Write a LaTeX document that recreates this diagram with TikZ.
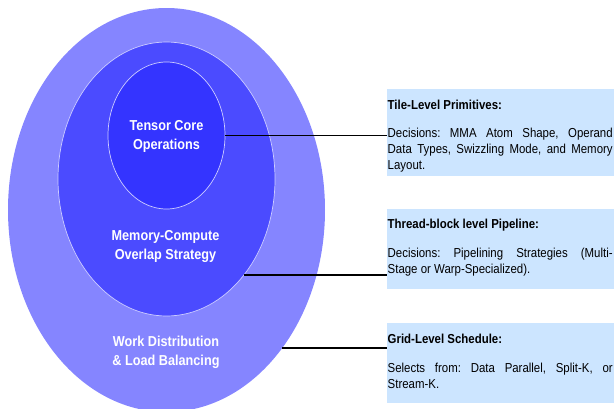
\documentclass[tikz,border=0pt]{standalone}
\usepackage{fontspec}
\setmainfont{Liberation Sans}[FakeStretch=0.88, WordSpace={1,4,0}]
\usetikzlibrary{shapes.geometric}
\definecolor{outerc}{RGB}{133,133,255}
\definecolor{midc}{RGB}{75,75,255}
\definecolor{innerc}{RGB}{52,52,255}
\definecolor{boxc}{RGB}{204,229,255}
\definecolor{rimc}{RGB}{205,205,255}
\frenchspacing
\hyphenpenalty=10000
\begin{document}
\begin{tikzpicture}[x=1pt,y=-1pt,
  ring/.style={ellipse, inner sep=0pt},
  ringtext/.style={text=white, font=\fontsize{14.4}{19}\selectfont\bfseries, align=center, inner sep=0pt},
  infobox/.style={rectangle, fill=boxc, inner sep=0pt, anchor=north west},
  boxtitle/.style={font=\fontsize{13}{16.3}\selectfont\bfseries, anchor=base west, inner sep=0pt},
  boxbody/.style={font=\fontsize{13}{16.3}\selectfont, anchor=base west, inner sep=0pt, text width=225pt, align=justify},
  link/.style={draw=black, line width=1.7pt}
]
\useasboundingbox (0,0) rectangle (614,408);
\clip (0,0) rectangle (614,408);
% nested ellipses
\node[ring, fill=outerc, minimum width=317pt, minimum height=404pt] (outer) at (166.5,210) {};
\node[ring, fill=midc, draw=rimc, line width=0.7pt, minimum width=217pt, minimum height=274pt] (mid) at (166.5,179) {};
\node[ring, fill=innerc, draw=rimc, line width=0.7pt, minimum width=117pt, minimum height=147pt] (inner) at (166.5,135.5) {};
% ellipse labels
\node[ringtext] (tlab) at (166.5,136.5) {Tensor Core\\Operations};
\node[ringtext] (mlab) at (165.5,246.5) {Memory-Compute\\Overlap Strategy};
\node[ringtext] (wlab) at (166,352.5) {Work Distribution\\\&~Load Balancing};
% boxes
\node[infobox, minimum width=227pt, minimum height=87pt] (b1) at (387,89) {};
\node[infobox, minimum width=227pt, minimum height=80pt] (b2) at (387,209) {};
\node[infobox, minimum width=227pt, minimum height=80pt] (b3) at (387,323) {};
% box texts
\node[boxtitle] (t1) at (387.5,109) {Tile-Level Primitives:};
\node[boxbody] (d1) at (387.5,137) {\hyphenpenalty=10000\tolerance=9999 Decisions: MMA Atom Shape, Operand Data Types, Swizzling Mode, and Memory Layout.};
\node[boxtitle] (t2) at (387.5,228) {Thread-block level Pipeline:};
\node[boxbody] (d2) at (387.5,257) {\hyphenpenalty=10000\tolerance=9999 Decisions: Pipelining Strategies (Multi-Stage or Warp-Specialized).};
\node[boxtitle] (t3) at (387.5,343) {Grid-Level Schedule:};
\node[boxbody] (d3) at (387.5,372) {\hyphenpenalty=10000\tolerance=9999 Selects from: Data Parallel, Split-K, or Stream-K.};
% connectors
\draw[link] (inner.east) -- (inner.east -| b1.west);
\draw[link] (mid.-51.7) -- (mid.-51.7 -| b2.west);
\draw[link] (outer.-50.8) -- (outer.-50.8 -| b3.west);
\end{tikzpicture}
\end{document}
